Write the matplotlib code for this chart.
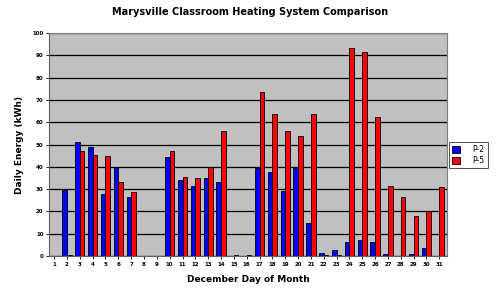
import numpy as np
import matplotlib.pyplot as plt
plt.switch_backend('agg')

days = list(range(1, 32))
p2 = [0, 29.5, 51, 49, 28, 40, 26.5, 0, 0, 44.5, 34, 31.5, 35, 33, 0, 0,
      39.5, 37.5, 29, 39.5, 15, 1.2, 2.5, 6.5, 7, 6.5, 1, 0, 1, 3.5, 0]
p5 = [0, 0.3, 47, 45.5, 45, 33, 28.5, 0, 0, 47, 35.5, 35, 40, 56, 0.3, 0.3,
      73.5, 63.5, 56, 54, 63.5, 0.3, 0.5, 93.5, 91.5, 62.5, 31.5, 26.5, 18, 20, 31]

fig = plt.figure(figsize=(5, 2.95), dpi=100)
ax = fig.add_axes([0.098, 0.132, 0.796, 0.756])
ax.set_facecolor('#c0c0c0')

x = np.array(days)
w = 0.36
ax.bar(x - w/2, p2, width=w, color='#0000ff', edgecolor='black', linewidth=0.6, zorder=3, label='P-2')
ax.bar(x + w/2, p5, width=w, color='#ff0000', edgecolor='black', linewidth=0.6, zorder=3, label='P-5')

ax.set_ylim(0, 100)
ax.set_xlim(0.6, 31.6)
ax.yaxis.grid(True, color='black', linewidth=0.9, zorder=1)
ax.set_xticks(x)
ax.set_xticklabels([str(d) for d in days], fontsize=4, fontweight='bold')
ax.set_yticks(range(0, 101, 10))
ax.set_yticklabels([str(v) for v in range(0, 101, 10)], fontsize=4, fontweight='bold')
ax.tick_params(axis='both', length=2, width=0.6, pad=2)
for s in ['top', 'right']:
    ax.spines[s].set_color('#808080')
ax.spines['left'].set_color('#606060')
ax.spines['bottom'].set_color('#606060')

ax.set_ylabel('Daily Energy (kWh)', fontsize=6.5, fontweight='bold', labelpad=6)
ax.set_xlabel('December Day of Month', fontsize=6.5, fontweight='bold', labelpad=6)
fig.suptitle('Marysville Classroom Heating System Comparison', x=0.5, y=0.975,
             fontsize=7, fontweight='bold')

leg = ax.legend(loc='upper left', bbox_to_anchor=(1.005, 0.51), fontsize=5.5,
                frameon=True, fancybox=False, edgecolor='black', borderpad=0.4,
                handlelength=1.1, handleheight=1.0, handletextpad=1.6,
                labelspacing=0.2, borderaxespad=0)
leg.get_frame().set_linewidth(0.6)

fig.savefig('out.png', dpi=100)
